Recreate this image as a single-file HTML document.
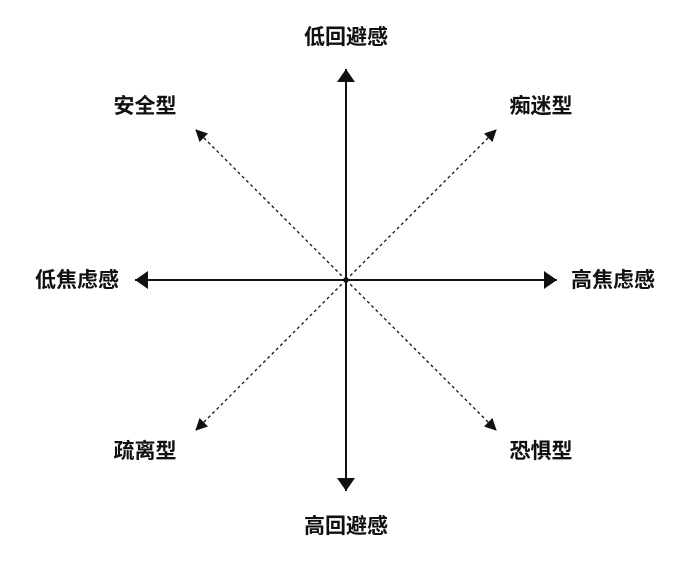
<!DOCTYPE html>
<html><head><meta charset="utf-8"><style>
html,body{margin:0;padding:0;background:#fff;}
svg{display:block;}
text{font-family:"Liberation Sans","Noto Sans CJK SC",sans-serif;font-weight:bold;font-size:21px;fill:#111;}
</style></head><body>
<svg width="692" height="564" viewBox="0 0 692 564">
<defs>
<marker id="a" markerWidth="12" markerHeight="12" refX="11" refY="6" orient="auto" markerUnits="userSpaceOnUse">
<path d="M0,0 L12,6 L0,12 Z" fill="#111"/></marker>
<marker id="b" markerWidth="20" markerHeight="20" refX="13" refY="10" orient="auto" markerUnits="userSpaceOnUse">
<path d="M0,1 L13,10 L0,19 Z" fill="#111"/></marker>
</defs>
<g stroke="#111" stroke-width="2" fill="none">
<line x1="346" y1="280" x2="346" y2="69" marker-end="url(#b)"/>
<line x1="346" y1="280" x2="346" y2="491" marker-end="url(#b)"/>
<line x1="346" y1="280" x2="135" y2="280" marker-end="url(#b)"/>
<line x1="346" y1="280" x2="557" y2="280" marker-end="url(#b)"/>
</g>
<g stroke="#111" stroke-width="1.3" stroke-dasharray="3,3" fill="none">
<line x1="346" y1="280" x2="196" y2="130" marker-end="url(#a)"/>
<line x1="346" y1="280" x2="496" y2="130" marker-end="url(#a)"/>
<line x1="346" y1="280" x2="196" y2="430" marker-end="url(#a)"/>
<line x1="346" y1="280" x2="496" y2="430" marker-end="url(#a)"/>
</g>
<g text-anchor="middle">
<text x="346" y="44">低回避感</text>
<text x="346" y="533">高回避感</text>
<text x="145" y="113">安全型</text>
<text x="541" y="113">痴迷型</text>
<text x="145" y="458">疏离型</text>
<text x="541" y="458">恐惧型</text>
<text x="77" y="287">低焦虑感</text>
<text x="613" y="287">高焦虑感</text>
</g>
</svg>
</body></html>
